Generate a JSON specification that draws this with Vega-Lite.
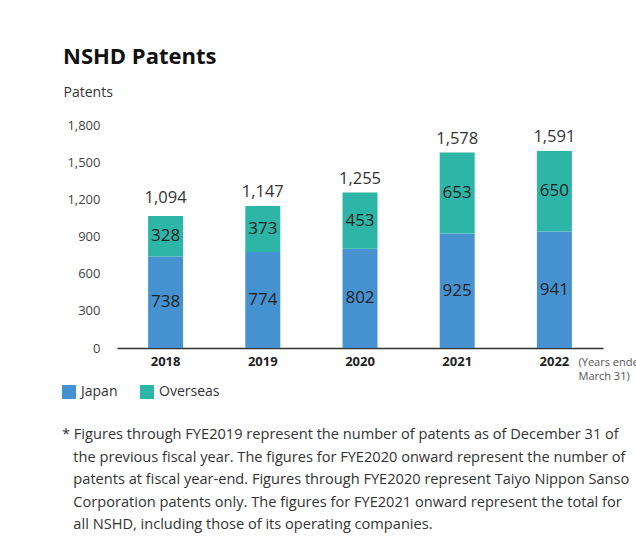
{
  "$schema": "https://vega.github.io/schema/vega-lite/v6.json",
  "width": 486,
  "height": 223,
  "autosize": {"type": "none"},
  "padding": {"left": 117, "top": 125, "right": 33, "bottom": 208},
  "background": "white",
  "config": {
    "font": "Open Sans",
    "view": {"stroke": null},
    "axisY": {
      "titleAngle": 0,
      "titleAlign": "left",
      "titleBaseline": "middle",
      "titleX": -54,
      "titleY": -33,
      "titleFontSize": 14,
      "titleFontWeight": "normal",
      "titleColor": "#333333",
      "labelFontSize": 13,
      "labelColor": "#444444",
      "labelPadding": 17,
      "labelOverlap": false,
      "ticks": false,
      "domain": false,
      "grid": false
    }
  },
  "title": {
    "text": "NSHD Patents",
    "anchor": "start",
    "frame": "group",
    "dx": -54,
    "offset": 16,
    "fontSize": 22,
    "fontWeight": "bold",
    "color": "#111111"
  },
  "datasets": {
    "bars": [
      {"year": "2018", "region": "Japan", "value": 738},
      {"year": "2018", "region": "Overseas", "value": 328},
      {"year": "2019", "region": "Japan", "value": 774},
      {"year": "2019", "region": "Overseas", "value": 373},
      {"year": "2020", "region": "Japan", "value": 802},
      {"year": "2020", "region": "Overseas", "value": 453},
      {"year": "2021", "region": "Japan", "value": 925},
      {"year": "2021", "region": "Overseas", "value": 653},
      {"year": "2022", "region": "Japan", "value": 941},
      {"year": "2022", "region": "Overseas", "value": 650}
    ],
    "totals": [
      {"year": "2018", "total": 1094},
      {"year": "2019", "total": 1147},
      {"year": "2020", "total": 1255},
      {"year": "2021", "total": 1578},
      {"year": "2022", "total": 1591}
    ]
  },
  "encoding": {
    "x": {
      "field": "year",
      "type": "ordinal",
      "scale": {"paddingInner": 0.64, "paddingOuter": 0.32},
      "axis": {
        "title": ["(Years ended", "March 31)"],
        "titleX": 461,
        "titleY": 8,
        "titleAlign": "left",
        "titleBaseline": "top",
        "titleAngle": 0,
        "titleFontSize": 11,
        "titleFontWeight": "normal",
        "titleColor": "#555555",
        "titleLineHeight": 14,
        "labelFontSize": 13,
        "labelFontWeight": "bold",
        "labelColor": "#222222",
        "labelPadding": 7,
        "labelAngle": 0,
        "ticks": false,
        "domainColor": "#333333",
        "domainWidth": 1.5
      }
    }
  },
  "layer": [
    {
      "data": {"name": "bars"},
      "mark": {"type": "bar"},
      "encoding": {
        "y": {
          "field": "value",
          "type": "quantitative",
          "stack": "zero",
          "scale": {"domain": [0, 1800]},
          "axis": {"title": "Patents", "values": [0, 300, 600, 900, 1200, 1500, 1800], "format": ",d", "labelOverlap": false}
        },
        "order": {"field": "region", "sort": "ascending"},
        "color": {
          "field": "region",
          "type": "nominal",
          "scale": {"domain": ["Japan", "Overseas"], "range": ["#4692d1", "#2db5a8"]},
          "legend": {
            "orient": "none",
            "legendX": -55,
            "legendY": 260,
            "direction": "horizontal",
            "symbolType": "square",
            "symbolSize": 196,
            "symbolStrokeWidth": 0,
            "symbolOpacity": 1,
            "labelFontSize": 14,
            "labelColor": "#333333",
            "labelOffset": 5,
            "columnPadding": 22,
            "title": [
              "* Figures through FYE2019 represent the number of patents as of December 31 of",
              "\u200b\u00a0\u00a0\u00a0the previous fiscal year. The figures for FYE2020 onward represent the number of",
              "\u200b\u00a0\u00a0\u00a0patents at fiscal year-end. Figures through FYE2020 represent Taiyo Nippon Sanso",
              "\u200b\u00a0\u00a0\u00a0Corporation patents only. The figures for FYE2021 onward represent the total for",
              "\u200b\u00a0\u00a0\u00a0all NSHD, including those of its operating companies."
            ],
            "titleOrient": "bottom",
            "titleAnchor": "start",
            "titleFontSize": 14.6,
            "titleFontWeight": "normal",
            "titleColor": "#333333",
            "titleLineHeight": 22.5,
            "titleLimit": 640,
            "titlePadding": 28
          }
        }
      }
    },
    {
      "data": {"name": "bars"},
      "transform": [
        {"stack": "value", "groupby": ["year"], "sort": [{"field": "region", "order": "ascending"}], "as": ["v0", "v1"]},
        {"calculate": "(datum.v0 + datum.v1) / 2", "as": "mid"}
      ],
      "mark": {"type": "text", "fontSize": 17, "color": "#222222"},
      "encoding": {
        "y": {
          "field": "mid",
          "type": "quantitative",
          "axis": {"title": "Patents", "values": [0, 300, 600, 900, 1200, 1500, 1800], "format": ",d", "labelOverlap": false}
        },
        "text": {"field": "value", "type": "quantitative"}
      }
    },
    {
      "data": {"name": "totals"},
      "mark": {"type": "text", "fontSize": 16.5, "color": "#333333", "baseline": "bottom", "dy": -6},
      "encoding": {
        "y": {
          "field": "total",
          "type": "quantitative",
          "axis": {"title": "Patents", "values": [0, 300, 600, 900, 1200, 1500, 1800], "format": ",d", "labelOverlap": false}
        },
        "text": {"field": "total", "type": "quantitative", "format": ","}
      }
    }
  ]
}
